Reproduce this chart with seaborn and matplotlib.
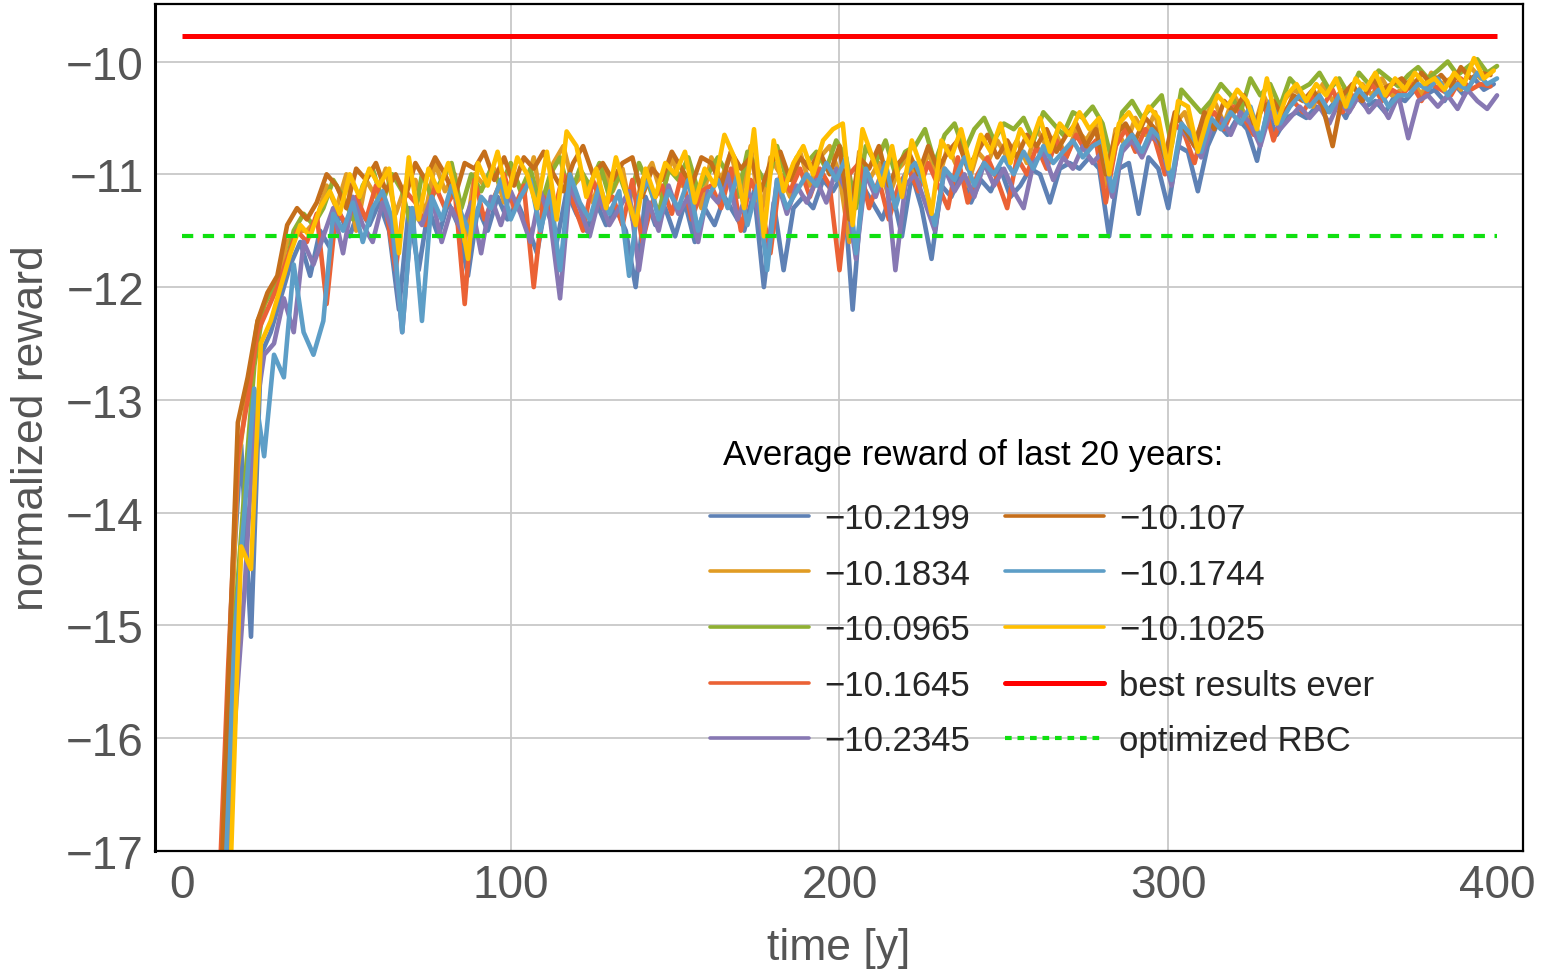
import numpy as np
import pandas as pd
import matplotlib
matplotlib.use("Agg")
import matplotlib.pyplot as plt
import seaborn as sns
from matplotlib.lines import Line2D

# ---- data -------------------------------------------------------------
# each run is logged every third year; the runs are staggered by one year
years_a = np.arange(11, 399, 3)
years_b = np.arange(12, 400, 3)
years_c = np.arange(13, 401, 3)

run_labels = ["\u221210.2199", "\u221210.1834", "\u221210.0965", "\u221210.1645",
              "\u221210.2345", "\u221210.107", "\u221210.1744", "\u221210.1025"]
run_colors = ["#5e81b5", "#e19c24", "#8fb032", "#eb6235",
              "#8778b3", "#c56e1a", "#5d9ec7", "#ffbf00"]

reward_blue = [
    -17.5, -14.8, -13.4, -15.1, -12.6, -12.4, -12.1, -11.8, -11.6, -11.9,
    -11.5, -11.65, -11.35, -11.55, -11.3, -11.45, -11.25, -11.5, -12.2, -11.3,
    -11.85, -11.3, -11.55, -11.25, -11.45, -11.9, -11.3, -11.5, -11.2, -11.4,
    -11.25, -11.45, -11.7, -11.2, -11.6, -11.15, -11.35, -11.5, -11.25, -11.45,
    -11.3, -11.5, -12.0, -11.2, -11.45, -11.3, -11.55, -11.25, -11.6, -11.3,
    -11.45, -11.2, -11.35, -11.5, -11.15, -12.0, -11.25, -11.85, -11.3, -11.2,
    -11.3, -11.05, -11.15, -11.0, -12.2, -11.1, -11.25, -11.4, -11.15, -11.55,
    -11.0, -11.3, -11.75, -11.1, -11.2, -11.0, -11.25, -11.05, -11.15, -10.95,
    -11.2, -11.1, -10.95, -11.0, -11.25, -10.95, -10.9, -10.95, -10.85, -10.95,
    -11.55, -10.95, -10.9, -11.35, -10.85, -10.95, -11.3, -10.75, -10.8, -11.15,
    -10.75, -10.55, -10.65, -10.5, -10.6, -10.88, -10.45, -10.65, -10.5, -10.45,
    -10.5, -10.4, -10.45, -10.35, -10.5, -10.3, -10.4, -10.35, -10.45, -10.3,
    -10.35, -10.25, -10.3, -10.25, -10.35, -10.2, -10.3, -10.15, -10.25, -10.2,
]
reward_orange = [
    -18.0, -15.8, -13.6, -12.9, -12.3, -12.1, -11.95, -11.6, -11.5, -11.5,
    -11.4, -11.1, -11.3, -11.0, -11.5, -11.05, -11.2, -10.95, -11.35, -11.1,
    -11.05, -11.35, -10.9, -11.15, -11.0, -11.6, -11.0, -11.1, -10.95, -11.25,
    -11.0, -11.2, -10.85, -11.35, -10.9, -10.75, -11.1, -11.0, -11.25, -10.95,
    -11.15, -10.95, -11.4, -11.05, -10.9, -11.2, -10.85, -11.1, -11.0, -11.3,
    -10.85, -11.05, -10.8, -11.2, -10.75, -11.4, -10.85, -11.0, -11.2, -10.8,
    -11.1, -10.85, -10.75, -11.0, -11.6, -10.8, -11.05, -10.9, -11.2, -10.95,
    -10.85, -11.1, -10.8, -11.05, -10.75, -10.95, -11.1, -10.8, -10.9, -10.7,
    -10.85, -10.7, -10.9, -10.6, -10.75, -10.65, -10.85, -10.6, -10.7, -10.55,
    -11.1, -10.6, -10.75, -10.5, -10.65, -10.45, -10.9, -10.55, -10.45, -10.7,
    -10.5, -10.35, -10.55, -10.3, -10.45, -10.6, -10.3, -10.5, -10.35, -10.25,
    -10.3, -10.4, -10.2, -10.35, -10.25, -10.4, -10.2, -10.3, -10.15, -10.3,
    -10.25, -10.15, -10.3, -10.1, -10.2, -10.15, -10.25, -10.05, -10.15, -10.1,
]
reward_green = [
    -17.2, -15.0, -13.8, -12.7, -12.15, -12.0, -11.9, -11.5, -11.35, -11.45,
    -11.3, -11.05, -11.2, -11.4, -11.1, -10.95, -11.25, -11.0, -11.15, -11.5,
    -11.0, -11.2, -11.05, -10.9, -11.3, -11.0, -11.15, -10.95, -11.1, -10.9,
    -11.15, -10.95, -11.3, -11.0, -10.85, -11.2, -10.95, -11.1, -10.9, -11.2,
    -11.0, -11.25, -10.9, -11.1, -11.35, -10.95, -11.05, -10.85, -11.15, -11.0,
    -10.85, -11.0, -11.2, -10.8, -10.95, -11.1, -10.75, -11.05, -10.85, -10.9,
    -10.8, -10.95, -10.7, -10.85, -11.3, -10.75, -10.9, -10.7, -11.0, -10.8,
    -10.75, -10.6, -10.9, -10.65, -10.55, -10.8, -10.6, -10.5, -10.7, -10.55,
    -10.6, -10.5, -10.7, -10.45, -10.55, -10.65, -10.45, -10.5, -10.4, -10.55,
    -10.9, -10.45, -10.35, -10.5, -10.4, -10.3, -10.75, -10.25, -10.35, -10.45,
    -10.35, -10.2, -10.3, -10.45, -10.15, -10.3, -10.2, -10.4, -10.15, -10.25,
    -10.2, -10.1, -10.25, -10.15, -10.3, -10.1, -10.2, -10.08, -10.15, -10.22,
    -10.12, -10.05, -10.15, -10.08, -10.0, -10.12, -10.05, -9.98, -10.1, -10.04,
]
reward_red = [
    -17.6, -15.4, -13.5, -13.0, -12.4, -12.2, -12.0, -11.75, -11.5, -11.6,
    -11.35, -12.15, -11.3, -11.45, -11.2, -11.4, -11.1, -11.3, -11.85, -11.15,
    -11.25, -11.45, -11.1, -11.3, -11.15, -12.15, -11.05, -11.4, -11.2, -11.0,
    -11.3, -11.1, -12.0, -11.2, -11.35, -11.0, -11.25, -11.5, -11.05, -11.3,
    -11.2, -11.45, -11.05, -11.6, -11.25, -11.1, -11.35, -11.0, -11.4, -11.15,
    -11.1, -11.3, -10.95, -11.5, -11.05, -11.25, -11.7, -11.0, -11.15, -10.95,
    -11.2, -10.95, -11.1, -11.85, -11.0, -10.9, -11.3, -11.05, -11.4, -11.1,
    -10.95, -11.15, -10.9, -11.1, -11.3, -10.85, -11.25, -11.0, -10.85, -11.05,
    -11.3, -10.85, -11.0, -10.75, -10.95, -10.7, -10.85, -10.65, -10.8, -10.7,
    -11.25, -10.75, -10.6, -10.8, -10.6, -10.7, -11.0, -10.55, -10.65, -10.9,
    -10.55, -10.45, -10.6, -10.4, -10.5, -10.65, -10.35, -10.7, -10.45, -10.35,
    -10.45, -10.3, -10.4, -10.25, -10.45, -10.3, -10.35, -10.2, -10.35, -10.25,
    -10.3, -10.2, -10.35, -10.2, -10.25, -10.3, -10.15, -10.25, -10.2, -10.22,
]
reward_purple = [
    -17.9, -15.9, -14.7, -13.2, -12.6, -12.5, -12.1, -12.4, -11.6, -11.8,
    -11.55, -11.3, -11.7, -11.2, -11.45, -11.6, -11.25, -11.5, -12.4, -11.3,
    -11.45, -11.2, -11.6, -11.3, -11.5, -11.25, -11.7, -11.2, -11.45, -11.15,
    -11.35, -11.6, -11.15, -11.4, -12.1, -11.1, -11.3, -11.55, -11.2, -11.45,
    -11.3, -11.15, -11.85, -11.25, -11.5, -11.1, -11.35, -11.2, -11.6, -11.15,
    -11.25, -11.0, -11.4, -11.15, -11.3, -11.75, -11.05, -11.35, -11.1, -11.25,
    -11.05, -11.25, -10.95, -11.15, -11.75, -11.0, -11.2, -10.95, -11.85, -11.1,
    -11.0, -11.25, -11.5, -10.95, -11.15, -11.0, -11.2, -10.9, -11.1, -10.95,
    -11.15, -11.3, -10.9, -10.8, -11.05, -10.85, -10.95, -10.75, -10.9, -10.8,
    -11.2, -10.8, -10.7, -10.85, -10.65, -10.75, -11.1, -10.6, -10.7, -10.85,
    -10.6, -10.5, -10.65, -10.45, -10.55, -10.75, -10.45, -10.6, -10.5, -10.4,
    -10.5, -10.4, -10.55, -10.35, -10.45, -10.3, -10.45, -10.35, -10.5, -10.3,
    -10.68, -10.35, -10.3, -10.4, -10.3, -10.42, -10.25, -10.35, -10.42, -10.3,
]
reward_brown = [
    -18.1, -15.6, -13.2, -12.8, -12.3, -12.05, -11.9, -11.45, -11.3, -11.4,
    -11.25, -11.0, -11.1, -11.3, -10.95, -11.05, -10.9, -11.15, -11.0, -11.2,
    -10.9, -11.05, -10.85, -11.0, -11.2, -10.9, -10.95, -10.8, -11.05, -10.85,
    -11.1, -10.85, -10.95, -10.8, -11.0, -11.15, -10.9, -10.75, -11.0, -10.9,
    -11.05, -10.9, -10.85, -11.2, -10.95, -11.05, -10.8, -10.95, -11.1, -10.85,
    -10.9, -11.1, -10.8, -10.95, -10.85, -11.15, -10.9, -10.8, -11.05, -10.85,
    -10.95, -10.8, -11.0, -10.75, -11.4, -10.85, -10.95, -10.75, -11.1, -10.9,
    -10.8, -11.0, -10.75, -10.95, -10.8, -10.7, -10.95, -10.8, -10.65, -10.85,
    -10.7, -10.85, -10.65, -10.75, -10.6, -10.8, -10.65, -10.55, -10.75, -10.6,
    -11.0, -10.65, -10.55, -10.7, -10.5, -10.6, -10.85, -10.45, -10.6, -10.75,
    -10.45, -10.6, -10.35, -10.45, -10.3, -10.55, -10.4, -10.35, -10.5, -10.3,
    -10.35, -10.25, -10.4, -10.75, -10.3, -10.2, -10.35, -10.15, -10.25, -10.2,
    -10.15, -10.25, -10.1, -10.2, -10.12, -10.22, -10.05, -10.15, -10.1, -10.12,
]
reward_lightblue = [
    -17.4, -15.1, -14.0, -12.9, -13.5, -12.6, -12.8, -11.8, -12.4, -12.6,
    -12.3, -11.35, -11.5, -11.25, -11.6, -11.3, -11.15, -11.4, -12.4, -11.3,
    -12.3, -11.2, -11.4, -11.1, -11.35, -11.55, -11.2, -11.3, -11.05, -11.4,
    -11.2, -11.05, -11.5, -11.15, -11.85, -11.0, -11.25, -11.4, -11.1, -11.35,
    -11.15, -11.9, -11.2, -11.05, -11.4, -11.15, -11.3, -11.05, -11.5, -11.2,
    -11.05, -11.3, -11.0, -11.45, -11.1, -11.85, -11.05, -11.3, -11.15, -11.0,
    -11.1, -10.9, -11.05, -10.85, -11.7, -10.95, -11.15, -10.9, -11.3, -11.0,
    -10.9, -11.1, -11.45, -10.95, -11.05, -10.85, -11.1, -10.9, -11.0, -10.85,
    -11.0, -10.8, -10.95, -10.75, -10.9, -10.8, -10.7, -10.85, -10.75, -10.7,
    -11.15, -10.75, -10.65, -10.8, -10.6, -10.7, -11.05, -10.55, -10.65, -10.8,
    -10.5, -10.6, -10.45, -10.55, -10.4, -10.7, -10.35, -10.55, -10.4, -10.3,
    -10.4, -10.3, -10.45, -10.3, -10.4, -10.25, -10.35, -10.25, -10.4, -10.3,
    -10.3, -10.2, -10.25, -10.15, -10.3, -10.2, -10.25, -10.1, -10.2, -10.15,
]
reward_yellow = [
    -18.5, -17.0, -14.3, -14.5, -12.5, -12.3, -12.0, -11.7, -11.45, -11.55,
    -11.3, -11.15, -11.35, -11.0, -11.2, -10.95, -11.1, -10.95, -11.7, -10.85,
    -11.4, -10.95, -11.15, -10.9, -11.25, -11.75, -10.9, -11.1, -10.8, -11.2,
    -10.85, -11.0, -11.3, -10.8, -11.4, -10.62, -10.75, -11.2, -10.95, -11.3,
    -10.85, -11.15, -11.45, -10.95, -11.2, -10.9, -11.0, -10.8, -11.25, -10.95,
    -11.1, -10.65, -10.85, -11.3, -10.6, -11.55, -10.7, -11.15, -10.9, -10.75,
    -11.0, -10.7, -10.6, -10.55, -11.45, -10.6, -10.85, -11.1, -10.75, -11.2,
    -10.7, -10.95, -11.35, -10.7, -10.85, -10.6, -10.95, -10.65, -10.8, -10.55,
    -10.9, -10.6, -10.75, -10.5, -10.8, -10.55, -10.65, -10.45, -10.6, -10.5,
    -11.0, -10.55, -10.45, -10.6, -10.4, -10.5, -10.95, -10.35, -10.4, -10.8,
    -10.5, -10.3, -10.4, -10.25, -10.35, -10.6, -10.15, -10.55, -10.3, -10.2,
    -10.35, -10.2, -10.3, -10.15, -10.4, -10.15, -10.25, -10.1, -10.3, -10.15,
    -10.25, -10.1, -10.2, -10.15, -10.25, -10.1, -10.2, -9.97, -10.15, -10.08,
]

time_span = [0, 400]
best_value = -9.77
rbc_value = -11.55

x_ticks = [0, 100, 200, 300, 400]
y_ticks = [-17, -16, -15, -14, -13, -12, -11, -10]

series = [reward_blue, reward_orange, reward_green, reward_red,
          reward_purple, reward_brown, reward_lightblue, reward_yellow]
series_years = [years_b, years_a, years_c, years_a,
                years_c, years_a, years_c, years_b]

df = pd.concat(
    [pd.DataFrame({"year": yrs, "reward": vals, "run": lab})
     for lab, yrs, vals in zip(run_labels, series_years, series)],
    ignore_index=True,
)

# ---- style ------------------------------------------------------------
sns.set_style("white")
plt.rcParams["font.family"] = ["Liberation Sans", "DejaVu Sans"]

fig = plt.figure(figsize=(15.43, 9.70), dpi=100)
ax = fig.add_axes([155 / 1543, 1 - 852 / 970, (1523 - 155) / 1543, (852 - 5) / 970])

sns.lineplot(data=df, x="year", y="reward", hue="run", hue_order=run_labels,
             palette=run_colors, estimator=None, sort=False, linewidth=3.3,
             legend=False, ax=ax)

ax.plot(time_span, [best_value] * 2, color="#ff0000", linewidth=3.6,
        solid_capstyle="butt", zorder=5)
ax.plot(time_span, [rbc_value] * 2, color="#10e010", linewidth=3.0,
        dashes=(2.7, 2.3), zorder=5)

ax.set_xlim(-8.2, 407.9)
ax.set_ylim(-17, -9.49)
ax.set_xticks(x_ticks)
ax.set_yticks(y_ticks)
ax.set_xticklabels([str(v) for v in x_ticks])
ax.set_yticklabels([str(v).replace("-", "\u2212") for v in y_ticks])

ax.grid(True, color="#c8c8c8", linewidth=1.3)
gl = ax.xaxis.get_gridlines()
gl[0].set_visible(False)
gl[-1].set_visible(False)
ax.set_axisbelow(True)

for s in ax.spines.values():
    s.set_color("black")
    s.set_linewidth(1.6)
ax.spines["left"].set_linewidth(2.2)

ax.tick_params(axis="both", which="major", labelsize=33, labelcolor="#555555",
               direction="in", length=3, width=0.8, color="#666666")
ax.tick_params(axis="x", pad=9)
ax.tick_params(axis="y", pad=8)

ax.set_xlabel("time [y]", fontsize=32, color="#555555", labelpad=14)
ax.set_ylabel("normalized reward", fontsize=32, color="#555555", labelpad=10)

handles = [Line2D([], [], color=c, linewidth=2.6) for c in run_colors]
handles.append(Line2D([], [], color="#ff0000", linewidth=3.6))
handles.append(Line2D([], [], color="#10e010", linewidth=3.0, dashes=(1.6, 1.4)))
labels = run_labels + ["best results ever", "optimized RBC"]

leg = ax.legend(handles, labels, ncol=2, loc="upper left",
                bbox_to_anchor=(710 / 1543, 1 - 503 / 970),
                bbox_transform=fig.transFigure,
                frameon=False, fontsize=25, borderaxespad=0,
                handlelength=2.85, handletextpad=0.45, columnspacing=0.99,
                labelspacing=0.65, borderpad=0)
fig.text(723 / 1543, 1 - 456 / 970, "Average reward of last 20 years:",
         fontsize=25, color="black", ha="left", va="center")

fig.savefig("out.png", dpi=100)
